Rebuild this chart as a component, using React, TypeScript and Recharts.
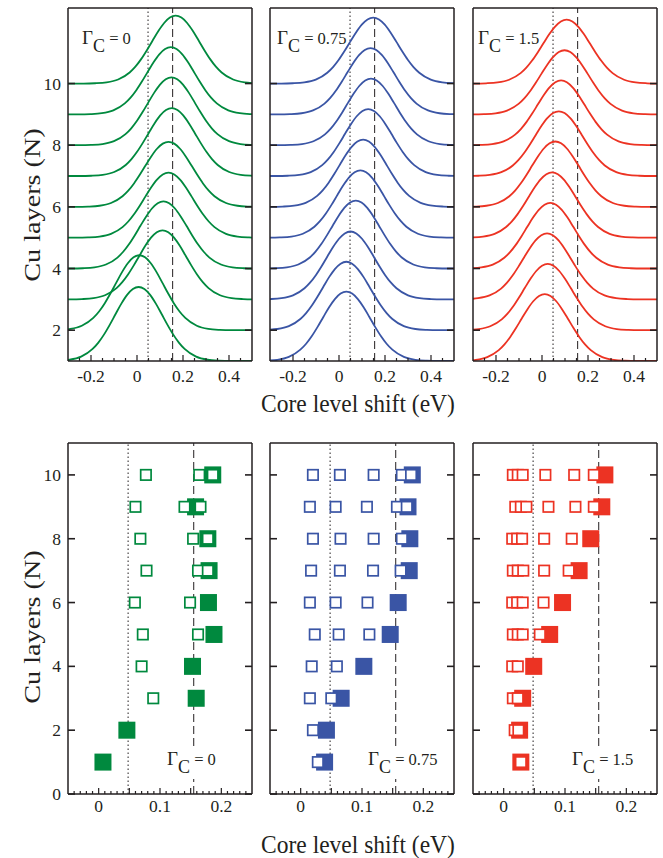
import React from 'react';
import { Line, LineChart, ReferenceLine, Scatter, ScatterChart, XAxis, YAxis } from 'recharts';

const N_LAYERS = [1, 2, 3, 4, 5, 6, 7, 8, 9, 10];

// peak positions (eV) of the simulated spectra, N = 1..10
const PEAK_G0 = [0.007, 0.01, 0.111, 0.115, 0.137, 0.137, 0.151, 0.15, 0.147, 0.168];
const PEAK_G075 = [0.032, 0.032, 0.05, 0.073, 0.093, 0.105, 0.127, 0.139, 0.137, 0.149];
const PEAK_G15 = [0.012, 0.025, 0.022, 0.036, 0.044, 0.058, 0.073, 0.083, 0.098, 0.107];

// peak heights in units of N
const AMP_G0 = [2.4, 2.43, 2.24, 2.18, 2.11, 2.11, 2.2, 2.2, 2.18, 2.2];
const AMP_G075 = [2.25, 2.22, 2.2, 2.2, 2.18, 2.18, 2.17, 2.16, 2.15, 2.14];
const AMP_G15 = [2.17, 2.15, 2.14, 2.13, 2.12, 2.12, 2.1, 2.1, 2.08, 2.07];

// line shape: offset from peak (eV) and relative height
const SHAPE_DX = [-1, -0.4, -0.35, -0.3, -0.25, -0.2, -0.175, -0.15, -0.125, -0.1, -0.075, -0.05, -0.025, 0,
  0.025, 0.05, 0.075, 0.1, 0.125, 0.15, 0.175, 0.2, 0.25, 0.3, 0.35, 0.4, 1];
const SHAPE_H = [0, 0, 0.004, 0.017, 0.059, 0.163, 0.249, 0.36, 0.492, 0.635, 0.775, 0.893, 0.972, 1,
  0.972, 0.893, 0.775, 0.635, 0.492, 0.36, 0.249, 0.163, 0.059, 0.017, 0.004, 0, 0];

// lower panels: filled square (total) and open squares (layer resolved), N = 1..10
const FILLED_G0 = [0.007, 0.046, 0.159, 0.153, 0.188, 0.179, 0.18, 0.178, 0.158, 0.186];
const OPEN_G0 = [[], [], [0.089], [0.07], [0.072, 0.162], [0.059, 0.149], [0.078, 0.162, 0.178],
  [0.068, 0.154, 0.178], [0.06, 0.14, 0.166], [0.077, 0.164, 0.186]];

const FILLED_G075 = [0.039, 0.042, 0.066, 0.103, 0.146, 0.159, 0.177, 0.178, 0.175, 0.182];
const OPEN_G075 = [[0.028], [0.02], [0.015, 0.05], [0.018, 0.059], [0.023, 0.062, 0.112],
  [0.015, 0.057, 0.109], [0.017, 0.064, 0.118, 0.163], [0.02, 0.065, 0.119, 0.165],
  [0.015, 0.057, 0.108, 0.157, 0.173], [0.02, 0.064, 0.119, 0.165, 0.18]];

const FILLED_G15 = [0.028, 0.026, 0.031, 0.049, 0.075, 0.096, 0.123, 0.142, 0.16, 0.165];
const OPEN_G15 = [[0.028], [0.018, 0.024], [0.015, 0.023], [0.014, 0.023], [0.015, 0.023, 0.031, 0.059],
  [0.014, 0.022, 0.031, 0.065], [0.015, 0.023, 0.032, 0.066, 0.106], [0.014, 0.022, 0.03, 0.066, 0.111],
  [0.019, 0.028, 0.037, 0.073, 0.117, 0.147], [0.015, 0.023, 0.031, 0.068, 0.115, 0.147]];

const GAMMA = ['0', '0.75', '1.5'];
const DOTTED_X = 0.048;
const DASHED_X = 0.155;

const TOP_X_TICKS = [-0.25, -0.2, -0.15, -0.1, -0.05, 0, 0.05, 0.1, 0.15, 0.2, 0.25, 0.3, 0.35, 0.4, 0.45];
const TOP_X_LABELS = [-0.2, 0, 0.2, 0.4];
const TOP_Y_TICKS = [2, 4, 6, 8, 10];
const BOT_X_TICKS = [-0.04, -0.03, -0.02, -0.01, 0, 0.01, 0.02, 0.03, 0.04, 0.05, 0.06, 0.07, 0.08, 0.09, 0.1,
  0.11, 0.12, 0.13, 0.14, 0.15, 0.16, 0.17, 0.18, 0.19, 0.2, 0.21, 0.22, 0.23, 0.24];
const BOT_X_LABELS = [0, 0.1, 0.2];
const BOT_Y_TICKS = [0, 2, 4, 6, 8, 10];

const GREEN = '#00893e';
const BLUE = '#3a55a5';
const RED = '#ec3323';
const INK = '#231f20';
const FONT = '"Liberation Serif", "Times New Roman", serif';

const COLS = [67.5, 270, 473];
const PLOT_W = 184;
const PAD_L = 40;
const PAD_R = 4;
const PAD_T = 4;
const PAD_B = 30;

const near = (a: number, b: number) => Math.abs(a - b) < 1e-6;
const fmt = (v: number) => (near(v, 0) ? '0' : v.toFixed(1));

function makeBottomTick(labels: number[], isMajor: (v: number) => boolean, dy: number) {
  return (p: any) => {
    const v = p.payload.value;
    const len = isMajor(v) ? 6 : 3;
    const lab = labels.some((l) => near(l, v));
    return (
      <g>
        <line x1={p.x} x2={p.x} y1={p.y} y2={p.y - len} stroke={INK} strokeWidth={1.2} />
        {lab && (
          <text x={p.x} y={p.y + dy} textAnchor="middle" fontFamily={FONT} fontSize={17.5} fill={INK}>
            {fmt(v)}
          </text>
        )}
      </g>
    );
  };
}

function makeTopTick(isMajor: (v: number) => boolean) {
  return (p: any) => {
    const len = isMajor(p.payload.value) ? 6 : 3;
    return <line x1={p.x} x2={p.x} y1={p.y} y2={p.y + len} stroke={INK} strokeWidth={1.2} />;
  };
}

function makeLeftTick(showLabel: boolean) {
  return (p: any) => (
    <g>
      <line x1={p.x} x2={p.x + 7} y1={p.y} y2={p.y} stroke={INK} strokeWidth={1.6} />
      {showLabel && (
        <text x={p.x - 7} y={p.y} dy="0.35em" textAnchor="end" fontFamily={FONT} fontSize={17.5} fill={INK}>
          {p.payload.value}
        </text>
      )}
    </g>
  );
}

const rightTick = (p: any) => (
  <line x1={p.x} x2={p.x - 7} y1={p.y} y2={p.y} stroke={INK} strokeWidth={1.6} />
);

const topMajor = (v: number) => TOP_X_LABELS.some((l) => near(l, v));
const botMajor = (v: number) => Math.round(v * 100) % 5 === 0;

function SpectraPanel({ col, peaks, amps, color, showY }: {
  col: number; peaks: number[]; amps: number[]; color: string; showY: boolean;
}) {
  const plotH = 353;
  const curves = N_LAYERS.map((n, i) =>
    SHAPE_DX.map((dx, j) => ({ x: peaks[i] + dx, y: n + amps[i] * SHAPE_H[j] })),
  );
  return (
    <div style={{ position: 'absolute', left: COLS[col] - PAD_L, top: 8 - PAD_T }}>
      <LineChart width={PAD_L + PLOT_W + PAD_R} height={PAD_T + plotH + PAD_B} margin={{ top: 0, right: 0, bottom: 0, left: 0 }}>
        <XAxis dataKey="x" type="number" domain={[-0.3, 0.5]} allowDataOverflow ticks={TOP_X_TICKS} interval={0}
          height={PAD_B} tickSize={0} tickMargin={0} tickLine={false} axisLine={{ stroke: INK, strokeWidth: 1.5 }}
          tick={makeBottomTick(TOP_X_LABELS, topMajor, 21)} />
        <XAxis xAxisId="top" orientation="top" type="number" domain={[-0.3, 0.5]} allowDataOverflow ticks={TOP_X_TICKS}
          interval={0} height={PAD_T} tickSize={0} tickMargin={0} tickLine={false}
          axisLine={{ stroke: INK, strokeWidth: 1.5 }} tick={makeTopTick(topMajor)} />
        <YAxis type="number" domain={[1, 12.45]} allowDataOverflow ticks={TOP_Y_TICKS} interval={0} width={PAD_L}
          tickSize={0} tickMargin={0} tickLine={false} axisLine={{ stroke: INK, strokeWidth: 1.5 }}
          tick={makeLeftTick(showY)} />
        <YAxis yAxisId="r" orientation="right" type="number" domain={[1, 12.45]} allowDataOverflow ticks={TOP_Y_TICKS}
          interval={0} width={PAD_R} tickSize={0} tickMargin={0} tickLine={false}
          axisLine={{ stroke: INK, strokeWidth: 1.5 }} tick={rightTick} />
        <ReferenceLine x={DOTTED_X} stroke={INK} strokeWidth={1} strokeDasharray="1.5 2.5" />
        <ReferenceLine x={DASHED_X} stroke={INK} strokeWidth={1} strokeDasharray="8 4" />
        {curves.map((pts, i) => (
          <Line key={i} data={pts} dataKey="y" type="monotone" stroke={color} strokeWidth={1.8}
            dot={false} isAnimationActive={false} />
        ))}
      </LineChart>
    </div>
  );
}

function ShiftPanel({ col, filled, open, color, showY }: {
  col: number; filled: number[]; open: number[][]; color: string; showY: boolean;
}) {
  const plotH = 351;
  const filledPts = N_LAYERS.map((n, i) => ({ x: filled[i], y: n }));
  const openPts = N_LAYERS.flatMap((n, i) => open[i].map((x) => ({ x, y: n })));
  const big = (p: any) => <rect x={p.cx - 8.5} y={p.cy - 8.5} width={17} height={17} fill={color} />;
  const small = (p: any) => (
    <rect x={p.cx - 5.2} y={p.cy - 5.2} width={10.4} height={10.4} fill="#fff" stroke={color} strokeWidth={1.7} />
  );
  return (
    <div style={{ position: 'absolute', left: COLS[col] - PAD_L, top: 443 - PAD_T }}>
      <ScatterChart width={PAD_L + PLOT_W + PAD_R} height={PAD_T + plotH + PAD_B} margin={{ top: 0, right: 0, bottom: 0, left: 0 }}>
        <XAxis dataKey="x" type="number" domain={[-0.05, 0.25]} allowDataOverflow ticks={BOT_X_TICKS} interval={0}
          height={PAD_B} tickSize={0} tickMargin={0} tickLine={false} axisLine={{ stroke: INK, strokeWidth: 1.5 }}
          tick={makeBottomTick(BOT_X_LABELS, botMajor, 18)} />
        <XAxis xAxisId="top" orientation="top" type="number" domain={[-0.05, 0.25]} allowDataOverflow ticks={BOT_X_TICKS}
          interval={0} height={PAD_T} tickSize={0} tickMargin={0} tickLine={false}
          axisLine={{ stroke: INK, strokeWidth: 1.5 }} tick={makeTopTick(botMajor)} />
        <YAxis dataKey="y" type="number" domain={[0, 11]} allowDataOverflow ticks={BOT_Y_TICKS} interval={0} width={PAD_L}
          tickSize={0} tickMargin={0} tickLine={false} axisLine={{ stroke: INK, strokeWidth: 1.5 }}
          tick={makeLeftTick(showY)} />
        <YAxis yAxisId="r" orientation="right" type="number" domain={[0, 11]} allowDataOverflow ticks={BOT_Y_TICKS}
          interval={0} width={PAD_R} tickSize={0} tickMargin={0} tickLine={false}
          axisLine={{ stroke: INK, strokeWidth: 1.5 }} tick={rightTick} />
        <ReferenceLine x={DOTTED_X} stroke={INK} strokeWidth={1} strokeDasharray="1.5 2.5" />
        <ReferenceLine x={DASHED_X} stroke={INK} strokeWidth={1} strokeDasharray="8 4" />
        <Scatter data={filledPts} shape={big} isAnimationActive={false} />
        <Scatter data={openPts} shape={small} isAnimationActive={false} />
      </ScatterChart>
    </div>
  );
}

function GammaLabel({ left, top, value, masked }: { left: number; top: number; value: string; masked: boolean }) {
  return (
    <div style={{
      position: 'absolute', left, top, fontFamily: FONT, fontSize: 19, color: INK, whiteSpace: 'nowrap',
      lineHeight: 1, background: masked ? '#fff' : 'transparent', padding: '1px 2px 3px 1px',
    }}>
      Γ<sub style={{ fontSize: 18, verticalAlign: '-0.42em' }}>C</sub>
      <span style={{ fontSize: 16.5 }}> = {value}</span>
    </div>
  );
}

const titleStyle: React.CSSProperties = {
  position: 'absolute', fontFamily: FONT, fontSize: 23.5, color: INK, whiteSpace: 'nowrap', lineHeight: 1,
};

export default function App() {
  return (
    <div style={{ position: 'absolute', left: 0, top: 0, width: 663, height: 858, background: '#fff', overflow: 'hidden' }}>
      <SpectraPanel col={0} peaks={PEAK_G0} amps={AMP_G0} color={GREEN} showY />
      <SpectraPanel col={1} peaks={PEAK_G075} amps={AMP_G075} color={BLUE} showY={false} />
      <SpectraPanel col={2} peaks={PEAK_G15} amps={AMP_G15} color={RED} showY={false} />
      <ShiftPanel col={0} filled={FILLED_G0} open={OPEN_G0} color={GREEN} showY />
      <ShiftPanel col={1} filled={FILLED_G075} open={OPEN_G075} color={BLUE} showY={false} />
      <ShiftPanel col={2} filled={FILLED_G15} open={OPEN_G15} color={RED} showY={false} />

      <GammaLabel left={81} top={27} value={GAMMA[0]} masked={false} />
      <GammaLabel left={276} top={27} value={GAMMA[1]} masked={false} />
      <GammaLabel left={477} top={27} value={GAMMA[2]} masked={false} />
      <GammaLabel left={166} top={748} value={GAMMA[0]} masked />
      <GammaLabel left={367} top={748} value={GAMMA[1]} masked />
      <GammaLabel left={571} top={748} value={GAMMA[2]} masked />

      <div style={{ ...titleStyle, left: 358, top: 391, transformOrigin: 'top center', transform: 'translateX(-50%) scaleY(1.1)' }}>Core level shift (eV)</div>
      <div style={{ ...titleStyle, left: 358, top: 832, transformOrigin: 'top center', transform: 'translateX(-50%) scaleY(1.1)' }}>Core level shift (eV)</div>
      <div style={{ ...titleStyle, left: 33, top: 205, transform: 'translate(-50%, -50%) rotate(-90deg) scaleX(1.2)' }}>Cu layers (N)</div>
      <div style={{ ...titleStyle, left: 33, top: 627, transform: 'translate(-50%, -50%) rotate(-90deg) scaleX(1.2)' }}>Cu layers (N)</div>
    </div>
  );
}
